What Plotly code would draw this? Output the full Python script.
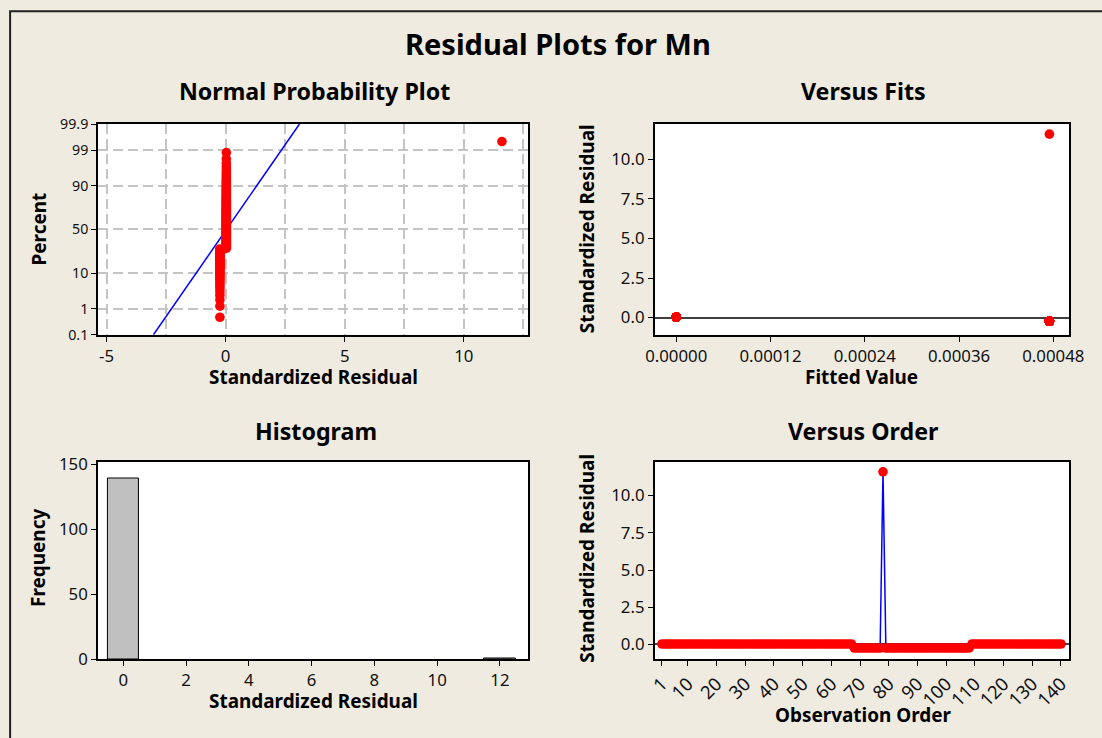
import numpy as np
import plotly.graph_objects as go
from statistics import NormalDist

# Standardized residuals in observation order, stored as runs of equal values
run_counts = [67, 10, 1, 30, 32]
run_resid = [0.03, -0.24, 11.6, -0.24, 0.03]
# Fitted value for each run
run_fitted = [0.0, 0.000475, 0.000475, 0.000475, 0.0]

order_ticks = [1, 10, 20, 30, 40, 50, 60, 70, 80, 90, 100, 110, 120, 130, 140]
prob_ticks = [0.1, 1, 10, 50, 90, 99, 99.9]
prob_labels = ["0.1", "1", "10", "50", "90", "99", "99.9"]
fit_ticks = [0.0, 0.00012, 0.00024, 0.00036, 0.00048]
resid_ticks = [0.0, 2.5, 5.0, 7.5, 10.0]
hist_xticks = [0, 2, 4, 6, 8, 10, 12]
hist_yticks = [0, 50, 100, 150]

resid = np.repeat(run_resid, run_counts)
fitted = np.repeat(run_fitted, run_counts)
n = len(resid)
obs = np.arange(1, n + 1)

nd = NormalDist()
# Normal probability plot: sorted residuals against median-rank percentiles
sorted_r = np.sort(resid)
pct = (np.arange(1, n + 1) - 0.3) / (n + 0.4)
z_pts = np.array([nd.inv_cdf(p) for p in pct])
z_ticks = [nd.inv_cdf(p / 100) for p in prob_ticks]
zlim = nd.inv_cdf(0.999)
mu, sd = resid.mean(), resid.std(ddof=1)
line_z = np.array([-zlim, zlim])
line_x = mu + sd * line_z

W, H = 1102, 738
PAD = 8  # page margin around the figure
SX = (W + 2 * PAD) / W
SY = (H + 2 * PAD) / H
FS = (SX + SY) / 2
FONT = "Noto Sans"
BEIGE = "#EFEBE1"
RED = "#FF0000"
BLUE = "#0000FF"
GRID = "#C4C4C4"
TICK_SIZE = 16.5 * FS
MARKER = 9.6


def px_x(v):
    # window pixel -> paper coordinate
    return (v * SX - PAD) / W


def px_y(v):
    return 1 - (v * SY - PAD) / H


fig = go.Figure()

# Normal probability plot
fig.add_trace(go.Scatter(x=line_x, y=line_z, mode="lines",
                         line=dict(color=BLUE, width=1.5),
                         xaxis="x", yaxis="y", hoverinfo="skip"))
fig.add_trace(go.Scatter(x=sorted_r, y=z_pts, mode="markers",
                         marker=dict(color=RED, size=MARKER),
                         xaxis="x", yaxis="y"))
# Versus fits
fig.add_trace(go.Scatter(x=fitted, y=resid, mode="markers",
                         marker=dict(color=RED, size=MARKER),
                         xaxis="x2", yaxis="y2"))
# Histogram
fig.add_trace(go.Histogram(x=resid, xbins=dict(start=-0.5, end=12.5, size=1),
                           marker=dict(color="#C0C0C0", line=dict(color="black", width=1)),
                           xaxis="x3", yaxis="y3"))
# Versus order
fig.add_trace(go.Scatter(x=obs, y=resid, mode="lines+markers",
                         line=dict(color=BLUE, width=1.5),
                         marker=dict(color=RED, size=MARKER),
                         xaxis="x4", yaxis="y4"))

axis_common = dict(showline=True, linecolor="black", linewidth=1.5, mirror=True,
                   ticks="outside", ticklen=5, tickcolor="black", tickwidth=1.2,
                   zeroline=False, showgrid=False,
                   tickfont=dict(family=FONT, size=TICK_SIZE, color="#111111"))

dx_l = [px_x(97.5), px_x(531)]
dx_r = [px_x(658.5), px_x(1076)]
dy_t = [px_y(335), px_y(122.7)]
dy_b = [px_y(662), px_y(462.7)]

fig.update_layout(
    width=W, height=H,
    margin=dict(l=0, r=0, t=0, b=0),
    paper_bgcolor=BEIGE, plot_bgcolor="white",
    showlegend=False, bargap=0,
    xaxis=dict(axis_common, domain=dx_l, anchor="y", range=[-5.36, 12.7],
               tickvals=[-5, 0, 5, 10], ticktext=["-5", "0", "5", "10"],
               showgrid=True, gridcolor=GRID, gridwidth=1.5, griddash="10px,5px",
               minor=dict(tick0=-5, dtick=2.5, showgrid=True, gridcolor=GRID,
                          gridwidth=1.5, griddash="10px,5px", ticks="")),
    yaxis=dict(axis_common, domain=dy_t, anchor="x", range=[-zlim, zlim],
               tickvals=z_ticks, ticktext=prob_labels,
               tickfont=dict(family=FONT, size=14 * FS, color="#111111"),
               showgrid=True, gridcolor=GRID, gridwidth=1.5, griddash="10px,5px"),
    xaxis2=dict(axis_common, domain=dx_r, anchor="y2", range=[-0.0000274, 0.000500],
                tickvals=fit_ticks, ticktext=[f"{v:.5f}" for v in fit_ticks]),
    yaxis2=dict(axis_common, domain=dy_t, anchor="x2", range=[-1.09, 12.24],
                tickvals=resid_ticks, ticktext=[f"{v:.1f}" for v in resid_ticks],
                zeroline=True, zerolinecolor="#404040", zerolinewidth=1.5),
    xaxis3=dict(axis_common, domain=dx_l, anchor="y3", range=[-0.81, 12.9],
                tickvals=hist_xticks),
    yaxis3=dict(axis_common, domain=dy_b, anchor="x3", range=[0, 152.3],
                tickvals=hist_yticks),
    xaxis4=dict(axis_common, domain=dx_r, anchor="y4", range=[-1.53, 142.8],
                tickvals=order_ticks, tickangle=-45,
                tickfont=dict(family=FONT, size=18 * FS, color="#111111")),
    yaxis4=dict(axis_common, domain=dy_b, anchor="x4", range=[-1.0, 12.29],
                tickvals=resid_ticks, ticktext=[f"{v:.1f}" for v in resid_ticks],
                zeroline=True, zerolinecolor="#404040", zerolinewidth=1.5),
)

# Dark border of the graph window
fig.add_shape(type="rect", xref="paper", yref="paper", layer="below",
              x0=px_x(9), x1=1.02, y0=-0.02, y1=px_y(9),
              fillcolor="rgba(0,0,0,0)", line=dict(color="#202020", width=2))


def label(text, x, y, size, angle=0, xanchor="center"):
    fig.add_annotation(text=f"<b>{text}</b>", x=px_x(x), y=px_y(y),
                       xref="paper", yref="paper", showarrow=False,
                       xanchor=xanchor, yanchor="middle", textangle=angle,
                       font=dict(family=FONT, size=size * FS, color="black"))


# Figure title
label("Residual Plots for Mn", 561, 42, 28.5)
# Panel titles
label("Normal Probability Plot", 316, 89, 22.8)
label("Versus Fits", 869, 89, 22.8)
label("Histogram", 317, 432, 22.8)
label("Versus Order", 869, 432, 22.8)
# Axis titles
label("Percent", 38, 228, 18.6, angle=-90)
label("Standardized Residual", 315, 378, 18.6)
label("Standardized Residual", 590, 228, 18.6, angle=-90)
label("Fitted Value", 867, 378, 18.6)
label("Frequency", 37, 560, 18.6, angle=-90)
label("Standardized Residual", 315, 704, 18.6)
label("Standardized Residual", 590, 560, 18.6, angle=-90)
label("Observation Order", 869, 718, 18.6)

fig.write_html("out.html")
